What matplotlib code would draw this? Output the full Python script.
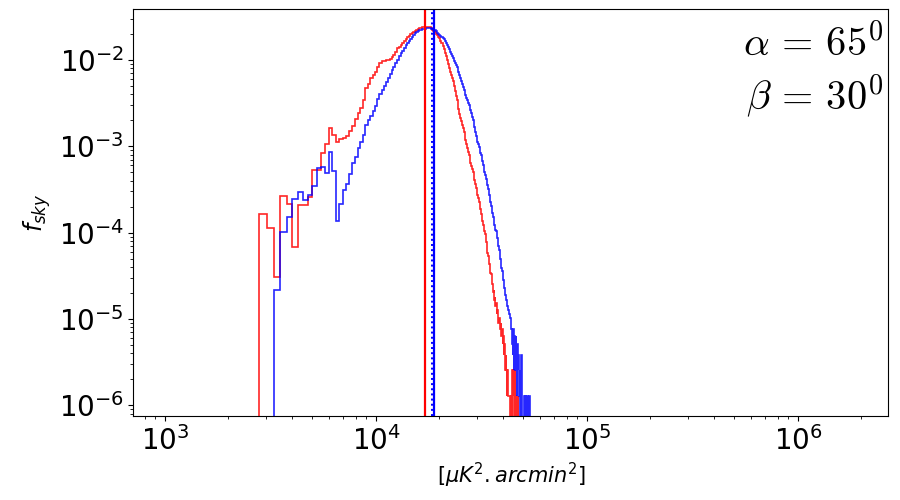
import numpy as np
import matplotlib
matplotlib.use("Agg")
import matplotlib.pyplot as plt

# ---- data -------------------------------------------------------------
N_PIX = 786432          # number of sky pixels (f_sky = counts / N_PIX)
BIN_START = 2790.0      # first bin edge [muK^2 arcmin^2]
BIN_WIDTH = 245.0       # linear bin width

red_counts = [
    129, 89, 24, 210, 168, 54, 163, 163, 202, 418,
    418, 665, 836, 1290, 1063, 875, 955, 990, 1035, 1190,
    1360, 1650, 1910, 2160, 2700, 3776, 4200, 4805, 5270, 5785,
    6610, 7220, 7660, 7760, 7864, 7970, 8180, 8520, 9110, 9735,
    10760, 11220, 11890, 12550, 13230, 13780, 14450, 15120, 15650, 16160,
    16690, 17190, 17610, 17985, 18320, 18570, 18770, 18920, 19070, 19170,
    19170, 19020, 18770, 18320, 17750, 17050, 16470, 15820, 15325, 14720,
    14100, 13230, 12380, 11510, 10550, 9480, 8640, 7810, 7070, 6355,
    5785, 5270, 4805, 4440, 3930, 3440, 3010, 2683, 2380, 2110,
    1862, 1695, 1545, 1407, 1282, 1152, 1035, 930, 836, 750,
    685, 624, 560, 503, 467, 430, 392, 356, 320, 288,
    259, 239, 214, 198, 178, 159, 146, 131, 118, 107,
    96, 88, 82, 76, 62, 52, 46, 42, 38, 34,
    33, 27, 26, 20, 20, 16, 17, 13, 14, 11,
    12, 9, 10, 9, 7, 8, 8, 6, 7, 5,
    6, 4, 5, 3, 4, 3, 2, 3, 2, 1,
    2, 1, 1, 1, 0, 0, 0, 1, 0, 2,
    1, 2, 1, 0, 2, 1, 1, 0, 1, 0,
    1,
]

blue_counts = [
    0, 0, 17, 79, 118, 193, 230, 188, 215, 274,
    444, 450, 382, 670, 407, 107, 167, 245, 288, 376,
    500, 596, 758, 888, 1063, 1389, 1586, 1765, 2016, 2335,
    2755, 3160, 3532, 3930, 4373, 4868, 5412, 6024, 6610, 7300,
    7970, 8800, 9480, 10130, 10920, 11610, 12380, 13160, 13950, 14650,
    15450, 16030, 16560, 17000, 17470, 17750, 17985, 18130, 18230, 18320,
    18370, 18370, 18320, 18180, 17985, 17700, 17330, 16870, 16380, 15900,
    15490, 15080, 14690, 14220, 13660, 13090, 12510, 11890, 11210, 10520,
    9860, 9260, 8680, 8300, 7740, 7280, 6900, 6490, 6130, 5680,
    5230, 4830, 4460, 4120, 3850, 3580, 3320, 3090, 2890, 2690,
    2530, 2365, 2200, 2055, 1895, 1740, 1586, 1450, 1317, 1152,
    1035, 970, 893, 836, 765, 712, 665, 620, 575, 527,
    477, 435, 398, 363, 330, 303, 277, 254, 232, 212,
    192, 178, 162, 147, 132, 119, 109, 97, 88, 85,
    82, 78, 68, 62, 55, 50, 44, 39, 35, 31,
    28, 24, 22, 19, 18, 16, 15, 14, 13, 12,
    11, 10, 10, 9, 8, 8, 7, 6, 5, 4,
    3, 6, 2, 5, 4, 2, 5, 3, 1, 4,
    2, 3, 1, 2, 1, 2, 0, 1, 3, 1,
    0, 0, 0, 0, 0, 1, 0, 1, 1, 0,
    1, 1, 0, 1, 0, 1, 1,
]

red_mean = 17070.0
blue_mean = 18770.0
blue_median = 18430.0

alpha_label = r"$\alpha \,=\, 65^0$"
beta_label = r"$\beta \,=\, 30^0$"

# ---- plot -------------------------------------------------------------
fig = plt.figure(figsize=(9, 5), dpi=100)
ax = fig.add_axes([0.1483, 0.168, 0.8387, 0.814])

def edges_for(counts):
    return BIN_START + BIN_WIDTH * np.arange(len(counts) + 1)

red = np.array(red_counts, dtype=float) / N_PIX
blue = np.array(blue_counts, dtype=float) / N_PIX

ax.set_xscale("log")
ax.set_yscale("log")

ax.stairs(red, edges_for(red_counts), color="red", lw=1.2, alpha=0.85, baseline=0)
ax.stairs(blue, edges_for(blue_counts), color="blue", lw=1.2, alpha=0.85, baseline=0)

ax.axvline(red_mean, color="red", lw=1.6)
ax.axvline(blue_median, color="blue", lw=1.4, ls=":")
ax.axvline(blue_mean, color="blue", lw=1.6)

ax.set_xlim(709, 2.68e6)
ax.set_ylim(7.52e-7, 0.039)

ax.tick_params(axis="both", which="major", labelsize=20)
ax.set_ylabel(r"$f_{sky}$", fontsize=17)
ax.set_xlabel(r"[$\mu K^2.arcmin^2$]", fontsize=15)

ax.text(0.993, 0.887, alpha_label, transform=ax.transAxes, ha="right",
        va="baseline", fontsize=29, math_fontfamily="cm")
ax.text(0.993, 0.752, beta_label, transform=ax.transAxes, ha="right",
        va="baseline", fontsize=29, math_fontfamily="cm")

fig.savefig("out.png", dpi=100)
